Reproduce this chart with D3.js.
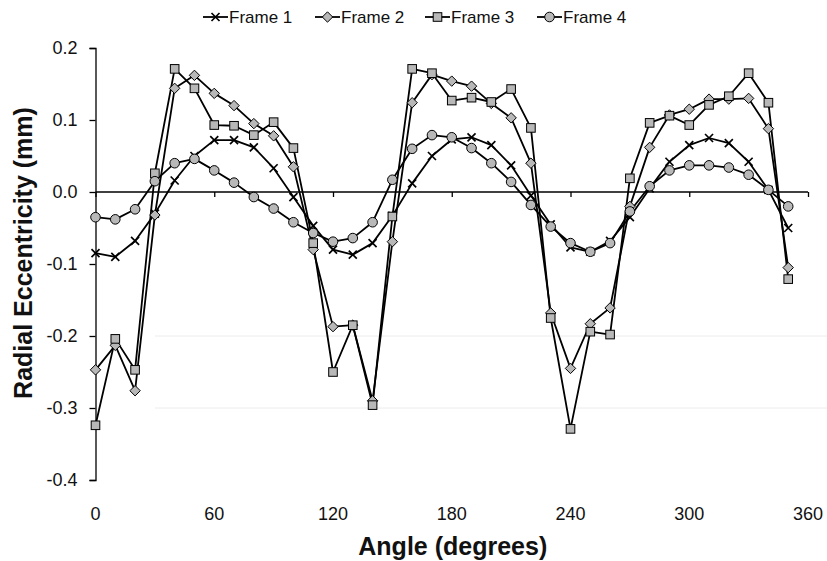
<!DOCTYPE html>
<html><head><meta charset="utf-8">
<script src="https://cdn.jsdelivr.net/npm/d3@7"></script>
<style>body{margin:0;background:#fff}svg{display:block;font-family:"Liberation Sans",Arial,sans-serif}</style>
</head><body>
<svg id="c" width="827" height="561"></svg>
<script>
const angles = [0,10,20,30,40,50,60,70,80,90,100,110,120,130,140,150,160,170,180,190,200,210,220,230,240,250,260,270,280,290,300,310,320,330,340,350];
const frame1 = [-0.085,-0.09,-0.068,-0.03,0.016,0.05,0.072,0.072,0.062,0.033,-0.007,-0.047,-0.08,-0.087,-0.071,-0.033,0.012,0.05,0.073,0.076,0.065,0.037,-0.005,-0.045,-0.077,-0.083,-0.068,-0.035,0.005,0.042,0.065,0.075,0.068,0.042,0.003,-0.05];
const frame2 = [-0.247,-0.213,-0.276,-0.032,0.144,0.162,0.137,0.12,0.095,0.078,0.035,-0.08,-0.187,-0.185,-0.29,-0.069,0.124,0.163,0.154,0.147,0.123,0.103,0.04,-0.168,-0.245,-0.183,-0.161,-0.02,0.062,0.107,0.115,0.129,0.129,0.13,0.088,-0.105];
const frame3 = [-0.324,-0.204,-0.247,0.026,0.171,0.144,0.093,0.092,0.079,0.097,0.061,-0.071,-0.25,-0.185,-0.296,-0.034,0.171,0.165,0.127,0.131,0.125,0.143,0.089,-0.175,-0.329,-0.194,-0.198,0.019,0.096,0.106,0.093,0.121,0.133,0.165,0.124,-0.121];
const frame4 = [-0.035,-0.038,-0.024,0.015,0.04,0.046,0.03,0.013,-0.007,-0.023,-0.042,-0.057,-0.069,-0.064,-0.042,0.017,0.06,0.079,0.076,0.061,0.04,0.014,-0.018,-0.048,-0.071,-0.083,-0.071,-0.027,0.008,0.03,0.037,0.037,0.034,0.024,0.003,-0.02];
const seriesNames = ["Frame 1","Frame 2","Frame 3","Frame 4"];
const markerTypes = ["x","diamond","square","circle"];
const xTicks = [0,60,120,180,240,300,360];
const yTicks = [-0.4,-0.3,-0.2,-0.1,0.0,0.1,0.2];

const series = [frame1,frame2,frame3,frame4].map((vals,i)=>({
  name: seriesNames[i], marker: markerTypes[i],
  pts: angles.map((a,j)=>({a, v: vals[j]}))
}));

const svg = d3.select("#c");
const x = d3.scaleLinear().domain([0,360]).range([95.5,808]);
const y = d3.scaleLinear().domain([-0.4,0.2]).range([480,48]);

// faint scan-like gridlines
svg.append("g").selectAll("line").data([-0.2,-0.3]).join("line")
  .attr("x1",155).attr("x2",827).attr("y1",d=>y(d)).attr("y2",d=>y(d))
  .attr("stroke","#ececec").attr("stroke-width",1);

// Y axis
const yAxis = d3.axisLeft(y).tickValues(yTicks).tickSize(6).tickPadding(12);
const gy = svg.append("g").attr("transform",`translate(${x(0)},0)`).call(yAxis);
gy.select(".domain").attr("stroke","#000").attr("stroke-width",1.3);
gy.selectAll(".tick line").attr("stroke","#000").attr("stroke-width",1.3);
gy.selectAll(".tick text").attr("font-size",18).attr("fill","#111").attr("font-family","Liberation Sans, Arial, sans-serif")
  .text(d=>d3.format(".1f")(d).replace("−","-"));

// X axis line at y=0, ticks downward
const xAxis = d3.axisBottom(x).tickValues(xTicks).tickSize(5).tickFormat("");
const gx = svg.append("g").attr("transform",`translate(0,${y(0)})`).call(xAxis);
gx.select(".domain").attr("stroke","#000").attr("stroke-width",1.3).attr("d",`M${x(0)},0H${x(360)}`);
gx.selectAll(".tick line").attr("stroke","#000").attr("stroke-width",1.3);

// X tick labels at bottom
svg.append("g").selectAll("text").data(xTicks).join("text")
  .attr("x",d=>x(d)).attr("y",520).attr("text-anchor","middle")
  .attr("font-size",18).attr("fill","#111").text(d=>d);

// Titles
svg.append("text").attr("x",x(180)+1).attr("y",555).attr("text-anchor","middle")
  .attr("font-size",25).attr("font-weight","bold").attr("fill","#111").text("Angle (degrees)");
svg.append("text").attr("transform",`translate(32,253) rotate(-90)`).attr("text-anchor","middle")
  .attr("font-size",25).attr("font-weight","bold").attr("fill","#111").text("Radial Eccentricity (mm)");

const line = d3.line().x(d=>x(d.a)).y(d=>y(d.v));
const fillGray = "#b8b8b8";

function drawMarker(g, type, cx, cy){
  if(type==="x"){
    const s=4;
    g.append("path").attr("d",`M${cx-s},${cy-s}L${cx+s},${cy+s}M${cx-s},${cy+s}L${cx+s},${cy-s}`)
     .attr("stroke","#000").attr("stroke-width",1.7).attr("fill","none");
  } else if(type==="diamond"){
    const s=5.2;
    g.append("path").attr("d",`M${cx},${cy-s}L${cx+s},${cy}L${cx},${cy+s}L${cx-s},${cy}Z`)
     .attr("fill",fillGray).attr("stroke","#000").attr("stroke-width",1);
  } else if(type==="square"){
    const s=4.3;
    g.append("rect").attr("x",cx-s).attr("y",cy-s).attr("width",2*s).attr("height",2*s)
     .attr("fill",fillGray).attr("stroke","#000").attr("stroke-width",1);
  } else {
    g.append("circle").attr("cx",cx).attr("cy",cy).attr("r",4.8)
     .attr("fill",fillGray).attr("stroke","#000").attr("stroke-width",1);
  }
}

const gs = svg.append("g");
series.forEach(s=>{
  gs.append("path").datum(s.pts).attr("d",line).attr("fill","none")
    .attr("stroke","#000").attr("stroke-width",1.8).attr("stroke-linejoin","round");
});
series.forEach(s=>{
  const gm = gs.append("g");
  s.pts.forEach(p=>drawMarker(gm, s.marker, x(p.a), y(p.v)));
});

// Legend
const legX = [203,315,425,537];
const lg = svg.append("g");
series.forEach((s,i)=>{
  const x0 = legX[i], yy = 17;
  lg.append("line").attr("x1",x0).attr("x2",x0+25).attr("y1",yy).attr("y2",yy)
    .attr("stroke","#000").attr("stroke-width",1.8);
  drawMarker(lg, s.marker, x0+12.5, yy);
  lg.append("text").attr("x",x0+26).attr("y",yy+6).attr("font-size",17).attr("fill","#111").text(s.name);
});
</script>
</body></html>
